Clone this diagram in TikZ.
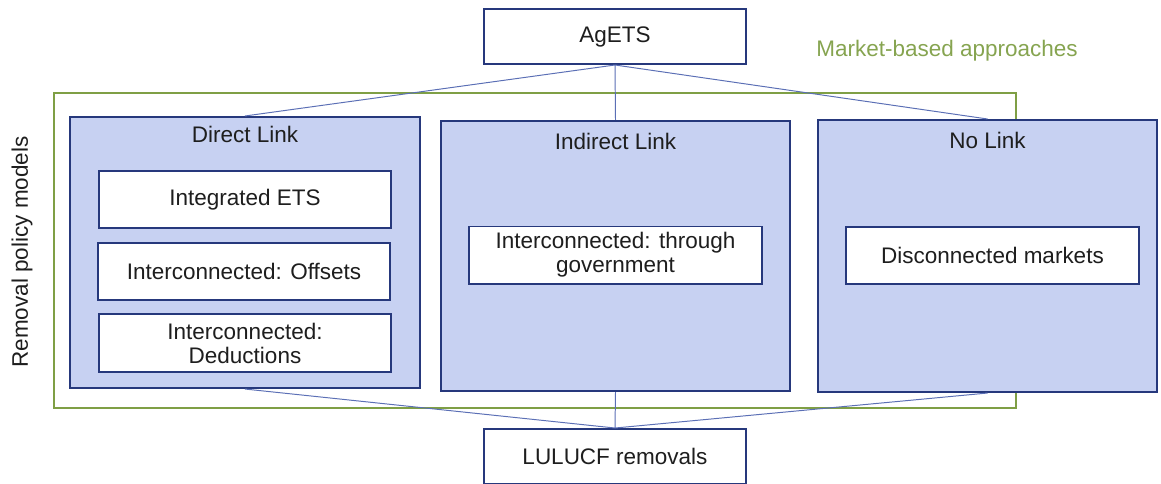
\documentclass[tikz,border=0pt]{standalone}
\usepackage{fontspec}
\setmainfont{Liberation Sans}
\usetikzlibrary{positioning}
\definecolor{navy}{HTML}{26387C}
\definecolor{linkfill}{HTML}{C7D1F2}
\definecolor{wire}{HTML}{5B6FB5}
\definecolor{frame}{HTML}{7F9F45}
\definecolor{frametext}{HTML}{86A450}
\definecolor{ink}{HTML}{1E1E1E}
\begin{document}
\begin{tikzpicture}[x=0.025cm, y=-0.025cm,
  every node/.style={font=\fontsize{16}{19}\selectfont, text=ink},
  endbox/.style={draw=navy, line width=1.4pt, fill=white, minimum width=6.55cm, minimum height=1.375cm, inner sep=0pt},
  linkbox/.style={draw=navy, line width=1.4pt, fill=linkfill, inner sep=0pt},
  itembox/.style={draw=navy, line width=1.4pt, fill=white, minimum width=7.3cm, minimum height=1.425cm, inner sep=0pt, align=center},
  wireline/.style={wire, line width=0.7pt}]
\useasboundingbox (0,0) rectangle (1161,483);
% market frame
\node[draw=frame, line width=1.4pt, minimum width=24.05cm, minimum height=7.875cm, inner sep=0pt] (market) at (535,250.5) {};
\node[text=frametext] (marketlbl) at (947,51) {Market-based approaches};
\node[rotate=90] (removallbl) at (22,252) {Removal policy models};
% end points
\node[endbox] (agets) at (615,36.5) {AgETS};
\node[endbox] (lulucf) at (615,456.5) {LULUCF removals};
% link types
\node[linkbox, minimum width=8.75cm, minimum height=6.775cm] (direct) at (245,252.5) {};
\node[linkbox, minimum width=8.725cm, minimum height=6.75cm] (indirect) at (615.5,256) {};
\node[linkbox, minimum width=8.475cm, minimum height=6.8cm] (nolink) at (987.5,256) {};
\node[below=7pt of direct.north, inner sep=0pt] (directlbl) {Direct Link};
\node[below=9pt of indirect.north, inner sep=0pt] (indirectlbl) {Indirect Link};
\node[below=9pt of nolink.north, inner sep=0pt] (nolinklbl) {No Link};
% policy models
\node[itembox] (integ) at (245,199.5) {Integrated ETS};
\node[itembox] (offsets) at (244,271.5) {Interconnected: Offsets};
\node[itembox, minimum height=1.45cm] (deduct) at (245,343) {Interconnected:\\[-2pt]Deductions};
\node[itembox, minimum width=7.325cm] (gov) at (615.5,255) {Interconnected: through\\[-2pt]government};
\node[itembox, minimum width=7.325cm] (disc) at (992.5,255.5) {Disconnected markets};
% connectors
\draw[wireline] (agets.south) -- (direct.north);
\draw[wireline] (agets.south) -- (indirect.north);
\draw[wireline] (agets.south) -- (nolink.north);
\draw[wireline] (direct.south) -- (lulucf.north);
\draw[wireline] (indirect.south) -- (lulucf.north);
\draw[wireline] (nolink.south) -- (lulucf.north);
\end{tikzpicture}
\end{document}
